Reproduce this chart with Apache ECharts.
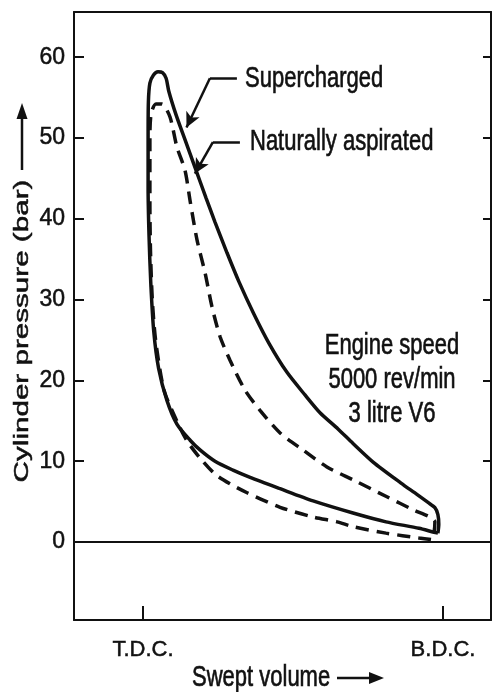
<!DOCTYPE html>
<html>
<head>
<meta charset="utf-8">
<script src="https://cdn.jsdelivr.net/npm/echarts@6/dist/echarts.min.js"></script>
<style>
  html, body { margin: 0; padding: 0; background: #fff; }
  #main { width: 494px; height: 692px; }
</style>
</head>
<body>
<div id="main"></div>
<script>
// y ticks (bar) and the two x positions (swept volume, % of stroke)
var pressureTicks = [0, 10, 20, 30, 40, 50, 60];
var strokeTicks = [0, 100];
var strokeLabels = ['T.D.C.', 'B.D.C.'];

// closed p-V loops, [swept volume %, pressure bar]
var superchargedLoop = [
  [98.3, 1.1], [97, 1.2], [92, 1.7], [81, 2.5], [70, 3.6], [56.7, 5.1], [45.7, 6.6], [35.7, 8],
  [30, 8.9], [24, 10], [19, 11.4], [15.7, 12.6], [11.3, 14.6], [8, 17.5], [5.2, 21.5], [3.6, 26],
  [2.6, 32], [2, 38], [1.7, 44], [1.7, 50], [1.8, 54.5], [2.3, 56.8], [3.5, 57.8],
  [5, 58.2], [6.5, 58.1], [7.7, 57.4], [8.6, 55.8], [11, 52.9], [14, 49.8], [17.3, 46.4],
  [21, 42.6], [24, 39.6], [28, 35.8], [32, 32.2], [37, 28.2], [42, 24.6], [48, 21],
  [54, 18.2], [59, 16], [65, 14], [70, 12.2], [76.7, 9.9], [86, 7.3], [91.3, 5.9],
  [95, 4.9], [97.3, 4.25], [98.3, 3.4], [98.6, 2.2], [98.3, 1.1]
];
var aspiratedLoop = [
  [96, 0.3], [92, 0.5], [81, 1.1], [70, 1.9], [64.7, 2.5], [56.7, 3.1], [45.7, 4.3],
  [34.7, 6.1], [29, 7.2], [24, 8.4], [19, 10.4], [14.7, 12.5], [11.5, 14.8], [7, 18.8], [4.2, 25],
  [3.1, 30], [2.5, 36], [2.3, 42], [2.3, 50], [2.7, 53], [4.3, 54.2], [6.3, 54.2],
  [9, 52.6], [11.3, 48.9], [14, 46], [15.8, 42], [18, 37.4], [20.7, 33.3], [23, 29.1],
  [25.7, 25.4], [29, 22.5], [34, 18.8], [39, 16.3], [45.7, 13.5], [53.3, 11.4],
  [61.3, 9.3], [70, 7.7], [81.3, 5.6], [90, 4], [95.7, 3.1], [97.3, 2.5], [97, 1.2], [96, 0.3]
];

// leader lines for the two curve labels (elbow, then arrow tip)
var superchargedLeader = [[31.3, 57.4], [22.3, 57.4], [14.5, 51.3]];
var aspiratedLeader = [[32.3, 49.5], [23.3, 49.5], [17.3, 45.6]];

var noteLines = ['Engine speed', '5000 rev/min', '3 litre V6'];

var FONT = '"Liberation Sans", Arial, sans-serif';
var INK = '#111';

function leaderMarks(pts) {
  return {
    silent: true,
    label: { show: false },
    lineStyle: { color: INK, width: 2.5, type: 'solid' },
    symbolSize: [11, 15],
    data: [
      [{ coord: pts[0], symbol: 'none' }, { coord: pts[1], symbol: 'none' }],
      [{ coord: pts[1], symbol: 'none' }, { coord: pts[2], symbol: 'arrow' }]
    ]
  };
}

// tall, narrow lettering like the printed figure
function label(x, y, text, opts) {
  opts = opts || {};
  return {
    type: 'text', x: x, y: y, scaleY: opts.scaleY || 1.3, scaleX: opts.scaleX || 1,
    rotation: opts.rotation || 0,
    style: {
      text: text, font: (opts.size || 22) + 'px ' + FONT, fill: INK,
      stroke: INK, lineWidth: 0.5, lineHeight: opts.lineHeight,
      align: opts.align || 'left', verticalAlign: 'middle'
    }
  };
}

var chart = echarts.init(document.getElementById('main'));

var option = {
  animation: false,
  backgroundColor: '#fff',
  grid: { left: 74, right: 3, top: 12, bottom: 72 },
  xAxis: [
    {
      type: 'value', min: -23, max: 116, position: 'bottom',
      axisLine: { show: true, onZero: false, lineStyle: { color: INK, width: 2 } },
      axisTick: { show: true, inside: true, length: 14, customValues: strokeTicks, lineStyle: { color: INK, width: 2 } },
      axisLabel: {
        customValues: strokeTicks, margin: 19, color: INK, fontSize: 22, fontFamily: FONT,
        textBorderColor: INK, textBorderWidth: 0.5,
        formatter: function (v) { return strokeLabels[strokeTicks.indexOf(v)]; }
      },
      splitLine: { show: false }
    },
    {
      type: 'value', min: -23, max: 116, position: 'top',
      axisLine: { show: true, onZero: false, lineStyle: { color: INK, width: 2 } },
      axisTick: { show: false }, axisLabel: { show: false }, splitLine: { show: false }
    }
  ],
  yAxis: [
    {
      type: 'value', min: -9.65, max: 65.6, position: 'left',
      axisLine: { show: true, onZero: false, lineStyle: { color: INK, width: 2 } },
      axisTick: { show: true, inside: true, length: 10, customValues: pressureTicks, lineStyle: { color: INK, width: 2 } },
      axisLabel: {
        customValues: pressureTicks, margin: 9, color: INK, fontSize: 23, fontFamily: FONT,
        textBorderColor: INK, textBorderWidth: 0.5
      },
      splitLine: { show: false }
    },
    {
      type: 'value', min: -9.65, max: 65.6, position: 'right',
      axisLine: { show: true, onZero: false, lineStyle: { color: INK, width: 2 } },
      axisTick: { show: true, inside: true, length: 8, customValues: pressureTicks, lineStyle: { color: INK, width: 2 } },
      axisLabel: { show: false }, splitLine: { show: false }
    }
  ],
  series: [
    {
      name: 'Supercharged', type: 'line', data: superchargedLoop,
      symbol: 'none', smooth: 0.25, silent: true,
      lineStyle: { color: INK, width: 3.5 },
      markLine: leaderMarks(superchargedLeader)
    },
    {
      name: 'Naturally aspirated', type: 'line', data: aspiratedLoop,
      symbol: 'none', smooth: 0.25, silent: true,
      lineStyle: { color: INK, width: 3.5, type: [13, 8] },
      markLine: leaderMarks(aspiratedLeader)
    },
    {
      // zero pressure line
      type: 'line', data: [], silent: true,
      markLine: {
        silent: true, symbol: 'none', label: { show: false },
        lineStyle: { color: INK, width: 2, type: 'solid' },
        data: [{ yAxis: 0 }]
      }
    }
  ],
  graphic: [
    label(22, 331, 'Cylinder pressure (bar)', { size: 21, rotation: Math.PI / 2, scaleX: 1.41, scaleY: 1, align: 'center' }),
    { type: 'line', shape: { x1: 22, y1: 170, x2: 22, y2: 116 }, style: { stroke: INK, lineWidth: 2.5 } },
    { type: 'polygon', shape: { points: [[22, 103], [16.5, 119], [27.5, 119]] }, style: { fill: INK } },
    label(192, 678, 'Swept volume'),
    { type: 'line', shape: { x1: 337, y1: 678, x2: 372, y2: 678 }, style: { stroke: INK, lineWidth: 2.5 } },
    { type: 'polygon', shape: { points: [[384, 678], [369, 672], [369, 684]] }, style: { fill: INK } },
    label(245, 79, 'Supercharged'),
    label(250, 142, 'Naturally aspirated'),
    label(392, 380, noteLines.join('\n'), { align: 'center', lineHeight: 26 })
  ]
};

chart.setOption(option);
</script>
</body>
</html>
